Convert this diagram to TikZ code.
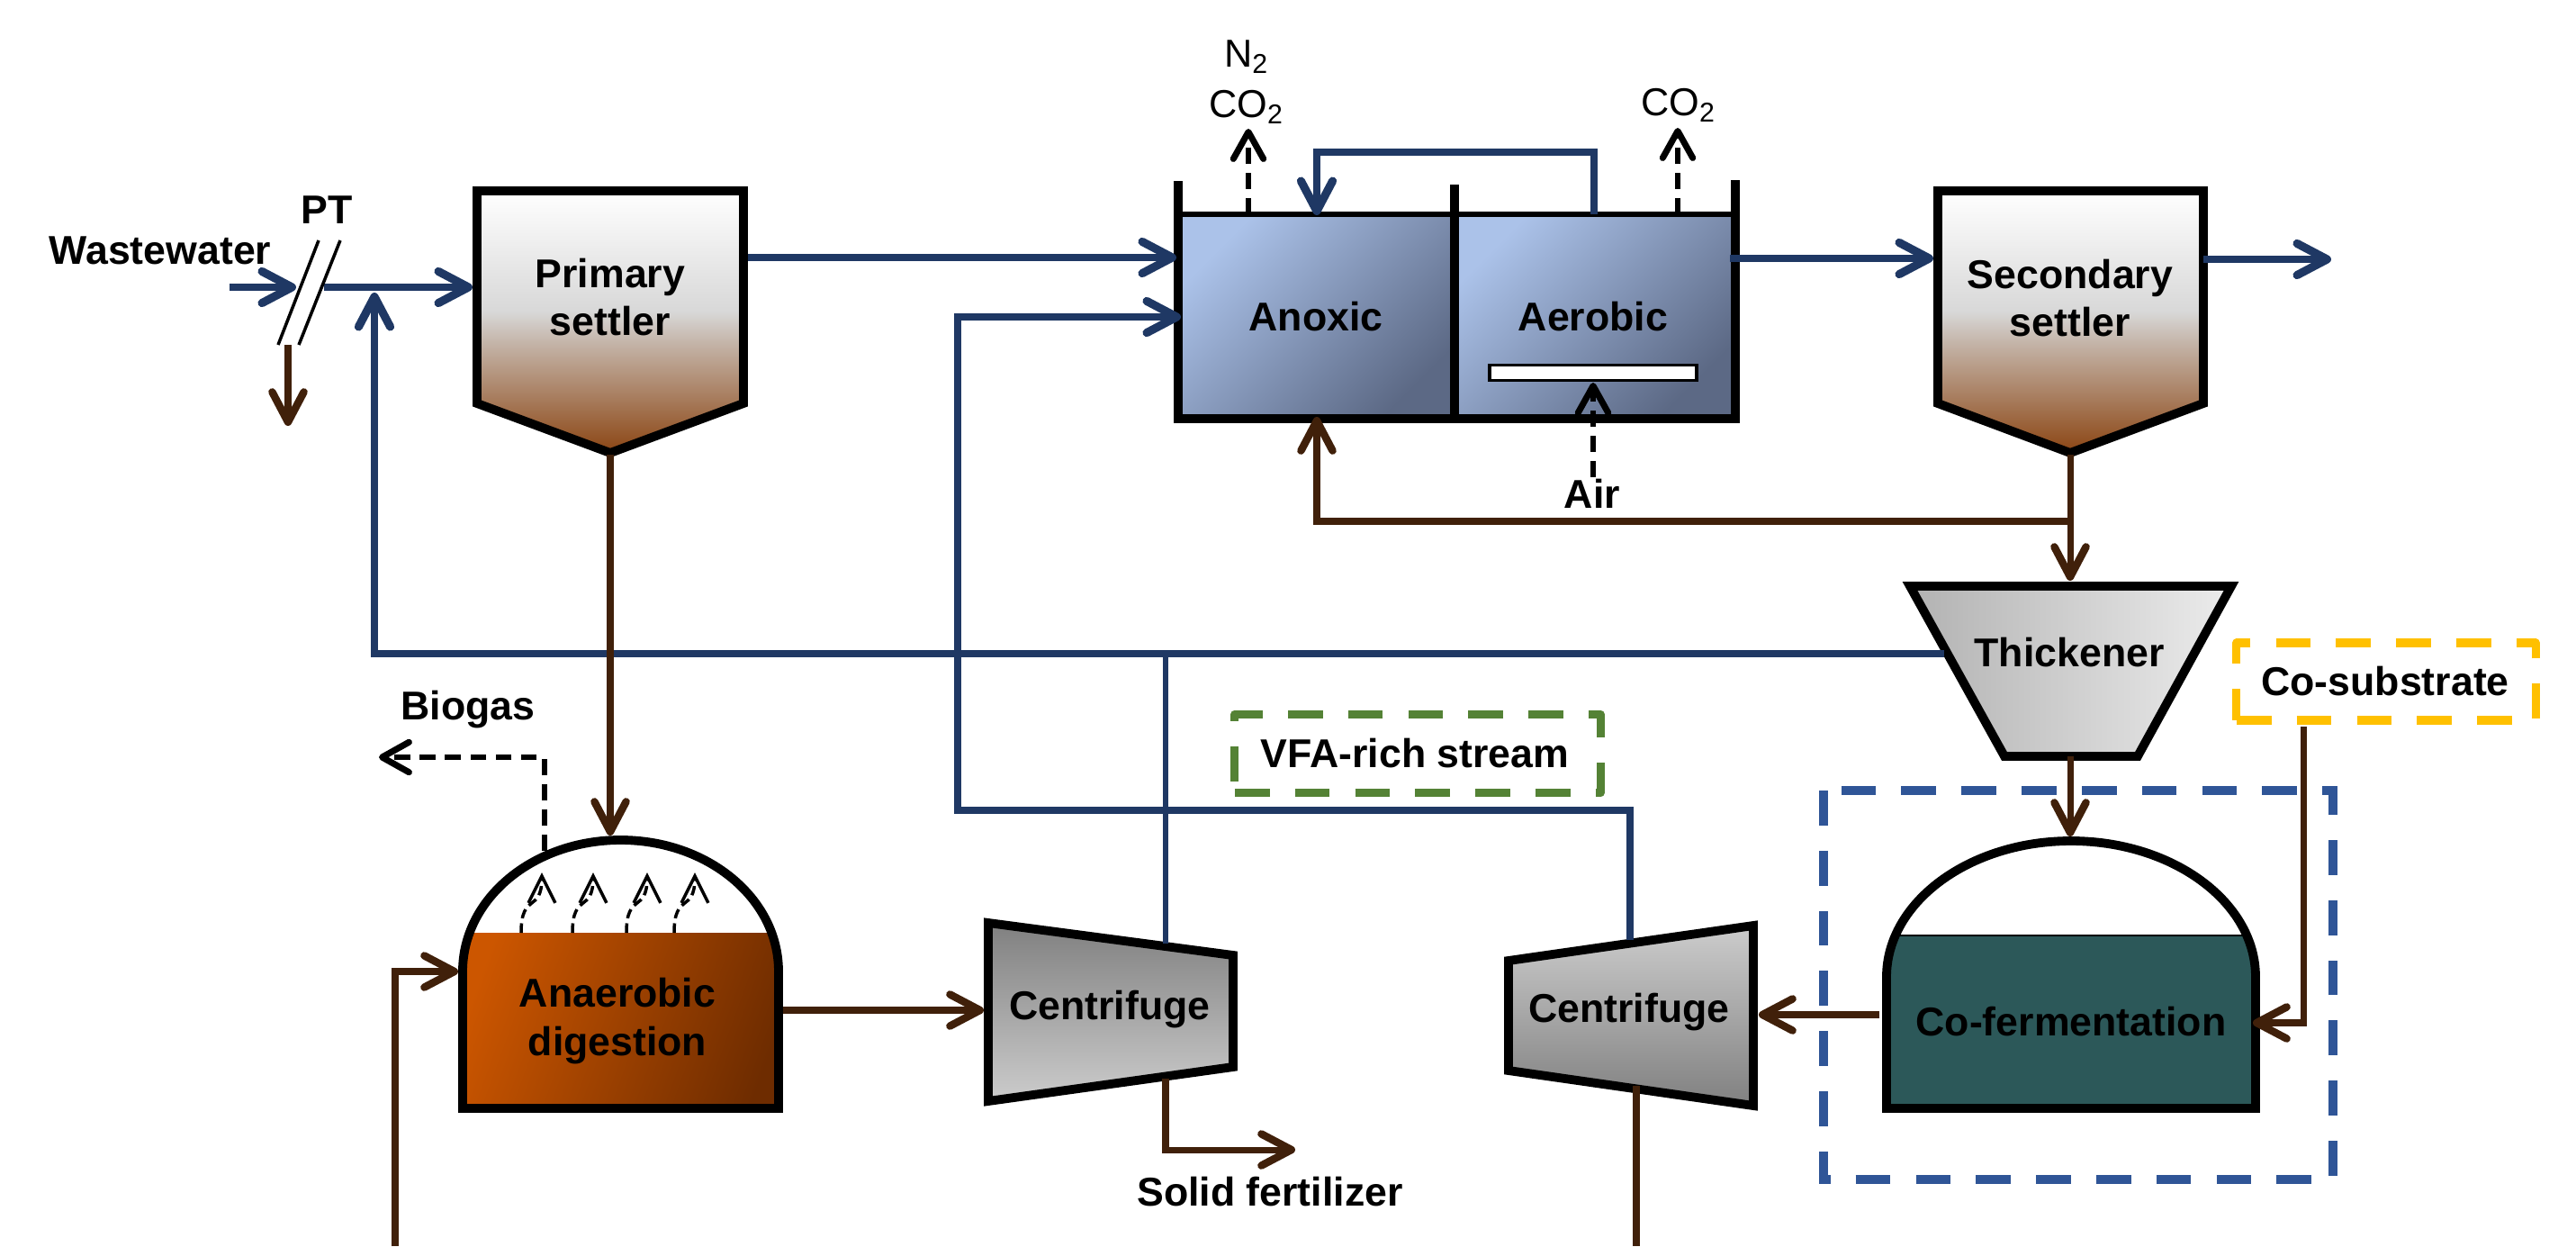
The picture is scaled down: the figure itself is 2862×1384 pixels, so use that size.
\documentclass[tikz,border=0pt]{standalone}
\usepackage{fontspec}
\setmainfont{Liberation Sans}
\usetikzlibrary{arrows.meta}

\definecolor{flowblue}{HTML}{1F3864}
\definecolor{sludgebrown}{HTML}{40200A}
\definecolor{groupblue}{HTML}{2F5597}
\definecolor{vfagreen}{HTML}{548235}
\definecolor{cosubgold}{HTML}{FFC000}
\definecolor{liquidteal}{HTML}{2C5859}
\definecolor{settlerbrown}{HTML}{8B4513}
\definecolor{settlertan}{HTML}{C4B4A8}
\definecolor{settlergrey}{HTML}{D8D8D8}
\definecolor{tanklight}{HTML}{ABC2E9}
\definecolor{tankmid}{HTML}{93A8CD}
\definecolor{tankdark}{HTML}{5C6985}
\definecolor{digestlight}{HTML}{CC5600}
\definecolor{digestdark}{HTML}{6E2C00}
\definecolor{steeldark}{HTML}{808080}
\definecolor{steellight}{HTML}{CCCCCC}
\definecolor{thickdark}{HTML}{B2B2B2}
\definecolor{thicklight}{HTML}{ECECEC}

\pgfdeclareverticalshading{settlershade}{100bp}{
  color(0bp)=(settlerbrown); color(25bp)=(settlerbrown);
  color(46bp)=(settlertan); color(52bp)=(settlergrey);
  color(75bp)=(white); color(100bp)=(white)}

\def\digesterpath{(514,1231) -- (514,1079) .. controls (514,998) and (592.5,933) .. (689.5,933)
  .. controls (786.5,933) and (865,998) .. (865,1079) -- (865,1231) -- cycle}
\def\fermenterpath{(2096,1231) -- (2096,1085) .. controls (2096,1002) and (2188,934) .. (2301,934)
  .. controls (2414,934) and (2506,1002) .. (2506,1085) -- (2506,1231) -- cycle}

\begin{document}
\begin{tikzpicture}[
  x=0.01cm, y=-0.01cm,
  lbl/.style={font=\fontsize{12.7}{15.3}\selectfont\bfseries, align=center, inner sep=0pt, text=black},
  gaslbl/.style={font=\fontsize{12.3}{15.9}\selectfont, align=center, inner sep=0pt},
  wall/.style={draw=black, line width=2.8pt, line join=miter},
  settler/.style={wall, shade, shading=settlershade},
  blueflow/.style={draw=flowblue, line width=2.1pt, -{Straight Barb[length=9.5pt,width=10pt,round,line width=2.6pt]}},
  blueline/.style={draw=flowblue, line width=1.8pt},
  brownflow/.style={draw=sludgebrown, line width=2pt, -{Straight Barb[length=9.5pt,width=10pt,round,line width=2.4pt]}},
  gasflow/.style={draw=black, line width=1.6pt, dash pattern=on 5pt off 3pt,
    -{Straight Barb[length=8.5pt,width=9.5pt,round,line width=2pt]}},
  bubble/.style={draw=black, line width=1pt, dash pattern=on 3pt off 1.6pt,
    -{Straight Barb[length=8.5pt,width=8.5pt,line width=1pt]}},
  dashbox/.style={line width=2.6pt, dash pattern=on 11pt off 8pt, fill=white, line join=round},
  tankzone/.style={top color=tanklight, middle color=tankmid, bottom color=tankdark, shading angle=45},
]
  \useasboundingbox (0,0) rectangle (2862,1384);

  % settlers
  \path[settler] (530,212) -- (826,212) -- (826,448) -- (678,503) -- (530,448) -- cycle;
  \path[settler] (2153,212) -- (2448,212) -- (2448,448) -- (2300,503) -- (2153,448) -- cycle;

  % anoxic and aerobic tank
  \shade[tankzone] (1311,240) rectangle (1616,462);
  \shade[tankzone] (1616,240) rectangle (1924,462);
  \draw[black, line width=1.9pt] (1309,238) -- (1928,238);
  \draw[wall, line width=2.7pt] (1309,201) -- (1309,465) -- (1928,465) -- (1928,200);
  \draw[wall, line width=2.7pt] (1616,205) -- (1616,470);
  \node[draw=black, fill=white, line width=1pt, minimum width=2.3cm, minimum height=0.17cm, inner sep=0pt] (sparger) at (1770,414) {};

  % thickener and centrifuges
  \path[wall, left color=thickdark, right color=thicklight]
    (2122,651) -- (2479,651) -- (2375,840) -- (2227,840) -- cycle;
  \path[wall, top color=steeldark, bottom color=steellight]
    (1098,1025) -- (1370,1061) -- (1370,1185) -- (1098,1223) -- cycle;
  \path[wall, top color=steellight, bottom color=steeldark]
    (1676,1067) -- (1948,1028) -- (1948,1228) -- (1676,1189) -- cycle;

  % digester
  \begin{scope}
    \clip \digesterpath;
    \shade[top color=digestlight, bottom color=digestdark, shading angle=70]
      (500,1036) rectangle (880,1240);
  \end{scope}
  \draw[wall] \digesterpath;

  % fermenter
  \begin{scope}
    \clip \fermenterpath;
    \fill[liquidteal] (2080,1039) rectangle (2520,1240);
  \end{scope}
  \draw[black, line width=0.6pt] (2106,1039) -- (2496,1039);
  \draw[wall] \fermenterpath;

  % dashed frames
  \draw[groupblue, line width=2.6pt, dash pattern=on 11pt off 8pt] (2026,878) rectangle (2592,1310);
  \node[dashbox, draw=vfagreen, minimum width=4.06cm, minimum height=0.87cm, inner sep=0pt] (vfabox) at (1575,837) {};
  \node[dashbox, draw=cosubgold, minimum width=3.32cm, minimum height=0.86cm, inner sep=0pt] (cosubbox) at (2651,757) {};

  % named ends of the streams
  \coordinate (wwIn) at (255,319);
  \coordinate (ptIn) at (329,319);
  \coordinate (ptOut) at (360,319);
  \coordinate (priIn) at (525,319);
  \coordinate (ptDown) at (320,383);
  \coordinate (ptSolids) at (320,473);
  \coordinate (returnTip) at (416,325);
  \coordinate (returnCorner) at (416,726);
  \coordinate (thickLeft) at (2160,726);
  \coordinate (cfOneJoin) at (1295,726);
  \coordinate (cfOneTop) at (1295,1048);
  \coordinate (cfOneBottom) at (1295,1198);
  \coordinate (fertTip) at (1439,1277);
  \coordinate (priOut) at (831,286);
  \coordinate (anoxIn) at (1307,286);
  \coordinate (vfaIn) at (1312,352);
  \coordinate (vfaCorner) at (1064,900);
  \coordinate (cfTwoTop) at (1811,1044);
  \coordinate (aerobTop) at (1771,238);
  \coordinate (anoxTop) at (1463,239);
  \coordinate (recycleHigh) at (1617,169);
  \coordinate (tankOut) at (1922,287);
  \coordinate (secIn) at (2148,287);
  \coordinate (secOut) at (2448,288);
  \coordinate (effluent) at (2590,288);
  \coordinate (secBottom) at (2300,505);
  \coordinate (rasJoin) at (2300,579);
  \coordinate (anoxBottom) at (1463,463);
  \coordinate (thickTop) at (2300,645);
  \coordinate (thickBottom) at (2300,840);
  \coordinate (fermTop) at (2300,929);
  \coordinate (priBottom) at (678,505);
  \coordinate (digTop) at (678,928);
  \coordinate (digFeedIn) at (439,1384);
  \coordinate (digFeedTip) at (509,1079);
  \coordinate (digOut) at (870,1122);
  \coordinate (cfOneIn) at (1093,1122);
  \coordinate (fermOut) at (2088,1127);
  \coordinate (cfTwoIn) at (1954,1127);
  \coordinate (cfTwoBottom) at (1818,1206);
  \coordinate (cfTwoDown) at (1818,1384);
  \coordinate (cosubOut) at (2559,807);
  \coordinate (fermIn) at (2503,1136);
  \coordinate (digGas) at (605,945);
  \coordinate (biogasTip) at (421,841);
  \coordinate (noxFrom) at (1387,238);
  \coordinate (noxTip) at (1387,143);
  \coordinate (coFrom) at (1864,238);
  \coordinate (coTip) at (1864,142);
  \coordinate (airFrom) at (1770,530);
  \coordinate (airTip) at (1770,425);

  % water line
  \draw[blueflow] (wwIn) -- (ptIn);
  \draw[blueflow] (ptOut) -- (priIn);
  \draw[brownflow] (ptDown) -- (ptSolids);
  \draw[blueflow] (thickLeft) -- (returnCorner) -- (returnTip);
  \draw[blueline] (cfOneTop) -- (cfOneJoin);
  \draw[blueflow] (priOut) -- (anoxIn);
  \draw[blueflow] (cfTwoTop) |- (vfaCorner) |- (vfaIn);
  \draw[blueflow] (aerobTop) |- (recycleHigh) -| (anoxTop);
  \draw[blueflow] (tankOut) -- (secIn);
  \draw[blueflow] (secOut) -- (effluent);

  % sludge line
  \draw[brownflow] (secBottom) -- (thickTop);
  \draw[brownflow] (rasJoin) -| (anoxBottom);
  \draw[brownflow] (thickBottom) -- (fermTop);
  \draw[brownflow] (priBottom) -- (digTop);
  \draw[brownflow] (digFeedIn) |- (digFeedTip);
  \draw[brownflow] (digOut) -- (cfOneIn);
  \draw[brownflow] (cfOneBottom) |- (fertTip);
  \draw[brownflow] (fermOut) -- (cfTwoIn);
  \draw[brownflow] (cosubOut) |- (fermIn);
  \draw[draw=sludgebrown, line width=2pt] (cfTwoBottom) -- (cfTwoDown);

  % gas
  \draw[gasflow] (noxFrom) -- (noxTip);
  \draw[gasflow] (coFrom) -- (coTip);
  \draw[gasflow] (airFrom) -- (airTip);
  \draw[gasflow] (digGas) |- (biogasTip);
  \foreach \xb in {579,636,696,749}
    \draw[bubble] (\xb,1036) .. controls (\xb,990) and (\xb+23,1015) .. (\xb+23,969);

  % slashes of the pretreatment
  \draw[black, line width=1pt] (354,267) -- (309,383);
  \draw[black, line width=1pt] (378,267) -- (332,383);

  \node[lbl] (wastewater) at (178,278) {Wastewater};
  \node[lbl] (pt) at (363,233) {PT};
  \node[lbl] (primary) at (678,330) {Primary\\settler};
  \node[lbl] (secondary) at (2300,331) {Secondary\\settler};
  \node[lbl] (anoxic) at (1462,352) {Anoxic};
  \node[lbl] (aerobic) at (1770,352) {Aerobic};
  \node[lbl] (air) at (1769,548) {Air};
  \node[gaslbl] (gasleft) at (1385,91) {N\textsubscript{2}\\CO\textsubscript{2}};
  \node[gaslbl] (gasright) at (1865,117) {CO\textsubscript{2}};
  \node[lbl] (thickener) at (2299,725) {Thickener};
  \node[lbl] (cosublabel) at (2650,757) {Co-substrate};
  \node[lbl] (vfalabel) at (1572,837) {VFA-rich stream};
  \node[lbl] (biogas) at (520,788) {Biogas};
  \node[lbl] (digester) at (686,1134) {Anaerobic\\digestion};
  \node[lbl] (cfone) at (1233,1121) {Centrifuge};
  \node[lbl] (cftwo) at (1810,1124) {Centrifuge};
  \node[lbl] (fermenter) at (2301,1135) {Co-fermentation};
  \node[lbl] (fertilizer) at (1411,1324) {Solid fertilizer};
\end{tikzpicture}
\end{document}
